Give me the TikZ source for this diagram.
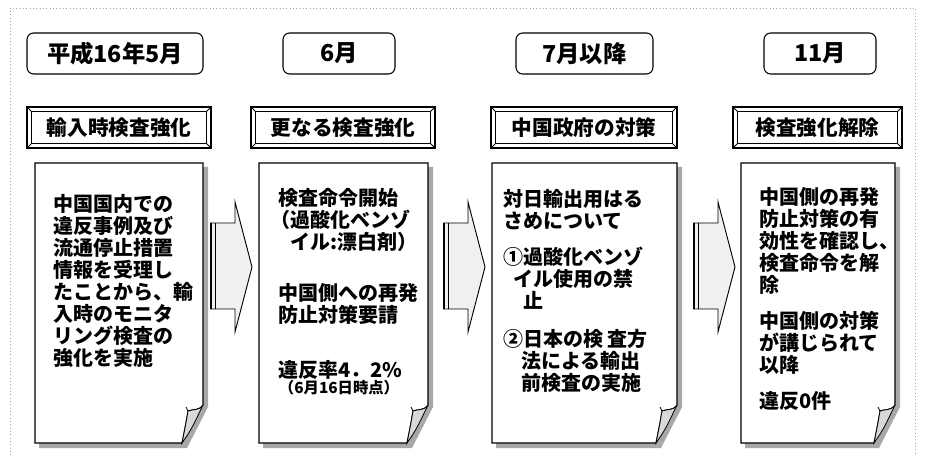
\documentclass[tikz,border=0pt]{standalone}
\usepackage{fontspec}
\setmainfont{Noto Sans CJK JP}
\usetikzlibrary{calc}
\definecolor{shadowgray}{gray}{0.66}
\definecolor{flapgray}{gray}{0.85}
\definecolor{arrowfill}{gray}{0.94}
\definecolor{framegray}{gray}{0.65}
\tikzset{
  datebox/.style={draw, line width=0.8pt, rounded corners=5pt, fill=white, inner sep=0pt,
    minimum height=30.75pt, font=\fontsize{17.5}{20}\selectfont\bfseries},
  titlebox/.style={draw, line width=1pt, fill=white, inner sep=0pt,
    minimum height=30.75pt, font=\fontsize{15.5}{18}\selectfont\bfseries},
  bodytext/.style={anchor=north west, inner sep=0pt, align=left,
    font=\fontsize{15}{16.5}\selectfont\bfseries},
  smalltext/.style={inner sep=0pt, font=\fontsize{11.5}{13}\selectfont\bfseries}
}
\newcommand\bevelframe[1]{%
  \draw[line width=0.6pt] ($(#1.north west)+(5,5)$) rectangle ($(#1.south east)+(-5,-5)$);
  \draw[line width=0.6pt] (#1.north west) -- ++(5,5) (#1.north east) -- ++(-5,5)
    (#1.south west) -- ++(5,-5) (#1.south east) -- ++(-5,-5);
}
\newcommand\pagebox[2]{%
  \fill[shadowgray] ({#1+4},167) -- ({#2+5},167) -- ({#2+5},407) -- ({#2-16},448) -- ({#1+4},448) -- cycle;
  \draw[line width=0.8pt, fill=white] (#1,163) -- (#2,163) -- (#2,405)
    .. controls ({#2-4},411) and ({#2-10},409) .. ({#2-15},411)
    .. controls ({#2-17},423) .. ({#2-21},443) -- (#1,443) -- cycle;
  \draw[line width=0.6pt, fill=flapgray] (#2,405)
    .. controls ({#2-4},411) and ({#2-10},409) .. ({#2-15},411)
    .. controls ({#2-17},423) .. ({#2-21},443)
    .. controls ({#2-12},430) .. (#2,405);
  \draw[line width=0.6pt] ({#2-15},411) -- ({#2-17},407);
}
\newcommand\blockarrow[1]{%
  \fill[arrowfill] (#1,223) -- ({#1+25},223) -- ({#1+25},202) -- ({#1+42},267)
    -- ({#1+25},332) -- ({#1+25},309) -- (#1,309) -- cycle;
  \draw[line width=0.7pt, line join=miter] (#1,223) -- ({#1+25},223) -- ({#1+25},202)
    -- ({#1+42},267) -- ({#1+25},332) -- ({#1+25},309) -- (#1,309);
  \draw[line width=2pt] ({#1+1},223) -- ({#1+1},309);
  \draw[line width=0.7pt] ({#1+5},223) -- ({#1+5},309);
}
\begin{document}
\begin{tikzpicture}[x=0.75pt, y=-0.75pt]
\useasboundingbox (0,0) rectangle (928,463);
% outer dotted frame
\draw[framegray, dotted, line width=0.5pt] (10,455) -- (10,8) -- (915,8) -- (915,455);

% date boxes
\node[datebox, minimum width=132pt] (d1) at (115,53.5) {平成16年5月};
\node[datebox, minimum width=84pt] (d2) at (339,53.5) {6月};
\node[datebox, minimum width=102.75pt] (d3) at (584.5,53.5) {7月以降};
\node[datebox, minimum width=84pt] (d4) at (820,53.5) {11月};

% title boxes
\node[titlebox, minimum width=138pt] (t1) at (119,127.5) {輸入時検査強化};
\node[titlebox, minimum width=138pt] (t2) at (343,127.5) {更なる検査強化};
\node[titlebox, minimum width=139.5pt] (t3) at (584,127.5) {中国政府の対策};
\node[titlebox, minimum width=126.75pt] (t4) at (817.5,127.5) {検査強化解除};
\bevelframe{t1}
\bevelframe{t2}
\bevelframe{t3}
\bevelframe{t4}

% content pages
\pagebox{35}{203}
\pagebox{259}{428}
\pagebox{492}{677}
\pagebox{741}{895}

% arrows
\blockarrow{210}
\blockarrow{443}
\blockarrow{693}

% texts
\node[bodytext] (b1) at (53,194.5) {中国国内での\\違反事例及び\\流通停止措置\\情報を受理し\\たことから、輸\\入時のモニタ\\リング検査の\\強化を実施};
\node[bodytext] (b2) at (278,188.5) {検査命令開始\\\hspace*{-6pt}（過酸化ベンゾ\\\hspace*{9pt}イル:漂白剤）\\[21.75pt]中国側への再発\\防止対策要請\\[24.75pt]違反率4．2\%};
\node[smalltext] (b2n) at (339,388) {（6月16日時点）};
\node[bodytext] (b3) at (503,189.5) {対日輸出用はる\\さめについて\\[10.5pt]①過酸化ベンゾ\\\hspace*{7.5pt}イル使用の禁\\\hspace*{15pt}止\\[12pt]②日本の検 査方\\\hspace*{13.5pt}法による輸出\\\hspace*{13.5pt}前検査の実施};
\node[bodytext] (b4) at (759,187.5) {中国側の再発\\防止対策の有\\効性を確認し、\\検査命令を解\\除\\[10.5pt]中国側の対策\\が講じられて\\以降\\[10.5pt]違反0件};
\end{tikzpicture}
\end{document}
